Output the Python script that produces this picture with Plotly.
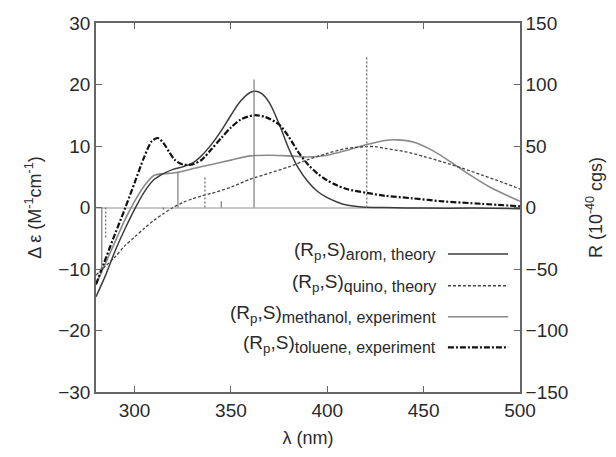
import plotly.graph_objects as go

# ---- data ----
arom_x = [280, 285, 290, 295, 300, 305, 310, 315, 320, 325, 330, 335, 340, 345, 350, 355, 360, 363, 366, 370, 375, 380, 385, 390, 395, 400, 405, 410, 418, 430, 450, 475, 500]
arom_y = [-14.5, -11, -7, -3.5, -0.3, 2.5, 4.5, 5.5, 6.2, 6.6, 7.2, 8.5, 10.3, 12.5, 15, 17.3, 18.7, 18.9, 18.5, 17, 13.6, 9.6, 6.4, 4.2, 2.6, 1.6, 0.9, 0.4, 0.1, 0, -0.1, -0.1, -0.2]

quino_x = [280, 285, 290, 295, 300, 305, 310, 315, 320, 325, 330, 335, 340, 350, 360, 370, 380, 390, 400, 410, 420, 425, 430, 440, 450, 460, 470, 480, 490, 500]
quino_y = [-11, -9.5, -8, -6.2, -4.8, -3.4, -2.1, -1, 0, 0.8, 1.4, 1.9, 2.3, 3.3, 4.6, 5.6, 6.6, 7.8, 8.8, 9.6, 9.9, 9.9, 9.6, 9.1, 8.3, 7.4, 6.4, 5.3, 4.2, 3.0]

meth_x = [280, 285, 290, 295, 300, 305, 310, 315, 320, 325, 330, 340, 350, 360, 370, 380, 390, 400, 410, 420, 430, 436, 445, 455, 465, 475, 485, 495, 500]
meth_y = [-12.5, -9, -5.5, -2, 1, 3.5, 5.2, 5.5, 5.6, 5.9, 6.3, 7, 7.7, 8.4, 8.5, 8.4, 8.2, 8.5, 9.3, 10.2, 10.9, 11, 10.6, 9.2, 7.2, 5.1, 3.2, 1.7, 1.0]

tol_x = [280, 285, 290, 295, 300, 305, 309, 312, 315, 318, 321, 325, 330, 335, 340, 345, 350, 355, 362, 368, 375, 380, 385, 390, 395, 400, 405, 410, 420, 430, 444, 460, 480, 500]
tol_y = [-12.5, -8.3, -4.2, -0.2, 4, 8.2, 10.8, 11.3, 10.5, 9, 7.7, 7, 7, 7.8, 9.5, 11.3, 13, 14.3, 15, 14.7, 13.5, 11.5, 9, 7, 5.5, 4.4, 3.6, 3.0, 2.4, 1.9, 1.5, 1.0, 0.6, 0.2]

# rotatory strengths (right axis, 10^-40 cgs)
arom_stick_x = [283, 322.5, 345, 362]
arom_stick_R = [-50, 29, 5, 104]
quino_stick_x = [285, 315, 336.5, 420.5]
quino_stick_R = [-25, -3, 25, 122]

legend_labels = [
    "(R<sub>p</sub>,S)<sub><span style='font-size:16px'>arom, theory</span></sub>",
    "(R<sub>p</sub>,S)<sub><span style='font-size:16px'>quino, theory</span></sub>",
    "(R<sub>p</sub>,S)<sub><span style='font-size:16px'>methanol, experiment</span></sub>",
    "(R<sub>p</sub>,S)<sub><span style='font-size:16px'>toluene, experiment</span></sub>",
]

FONT = "Liberation Sans, Arial, Helvetica, sans-serif"
TXT = "#2a2a2a"
AX = "#666666"

styles = [
    dict(color="#3c3c3c", width=1.5, dash="solid"),
    dict(color="#444444", width=1.3, dash="3px,2px"),
    dict(color="#8a8a8a", width=1.6, dash="solid"),
    dict(color="#111111", width=2.2, dash="6px,2px,2px,2px"),
]

fig = go.Figure()

def stick_xy(xs, rs):
    X, Y = [], []
    for x, r in zip(xs, rs):
        X += [x, x, None]
        Y += [0, r, None]
    return X, Y

sx, sy = stick_xy(arom_stick_x, arom_stick_R)
fig.add_trace(go.Scatter(x=sx, y=sy, mode="lines", yaxis="y2",
                         line=dict(color="#7a7a7a", width=1.2), showlegend=False, hoverinfo="skip"))
sx, sy = stick_xy(quino_stick_x, quino_stick_R)
fig.add_trace(go.Scatter(x=sx, y=sy, mode="lines", yaxis="y2",
                         line=dict(color="#7a7a7a", width=1.4, dash="2px,2px"), showlegend=False, hoverinfo="skip"))

for (xs, ys), st in zip([(meth_x, meth_y), (quino_x, quino_y), (arom_x, arom_y), (tol_x, tol_y)],
                        [styles[2], styles[1], styles[0], styles[3]]):
    fig.add_trace(go.Scatter(x=xs, y=ys, mode="lines", line=dict(shape="spline", smoothing=0.8, **st),
                             showlegend=False))

# gnuplot-style legend: text right-aligned, sample on the right
rows_y = [0.374, 0.288, 0.204, 0.121]
for lab, st, yy in zip(legend_labels, styles, rows_y):
    fig.add_annotation(x=0.806, y=yy + 0.008, xref="paper", yref="paper", text=lab, showarrow=False,
                       xanchor="right", yanchor="middle",
                       font=dict(family=FONT, size=19, color=TXT))
    fig.add_shape(type="line", xref="paper", yref="paper", x0=0.830, x1=0.972, y0=yy, y1=yy,
                  line=st)

fig.update_layout(
    width=616, height=457,
    margin=dict(l=96, r=96, t=23, b=62),
    paper_bgcolor="white", plot_bgcolor="white",
    font=dict(family=FONT, size=19, color=TXT),
    showlegend=False,
    xaxis=dict(range=[280, 500], tickvals=[300, 350, 400, 450, 500], ticks="inside", ticklen=6,
               tickcolor=AX, showline=True, linecolor=AX, linewidth=1.5, mirror="ticks",
               showgrid=False, zeroline=False,
               title=dict(text="λ (nm)", standoff=12, font=dict(size=18))),
    yaxis=dict(range=[-30, 30], tickvals=[-30, -20, -10, 0, 10, 20, 30], ticks="inside", ticklen=6,
               tickcolor=AX, showline=True, linecolor=AX, linewidth=1.5,
               showgrid=False, zeroline=True, zerolinecolor="#c8c8c8", zerolinewidth=1.5,
               title=dict(text="Δ ε (M<sup>-1</sup>cm<sup>-1</sup>)", standoff=12, font=dict(size=18))),
    yaxis2=dict(range=[-150, 150], tickvals=[-150, -100, -50, 0, 50, 100, 150], overlaying="y", side="right",
                ticks="inside", ticklen=6, tickcolor=AX, showline=True, linecolor=AX, linewidth=1.5,
                showgrid=False, zeroline=False,
                title=dict(text="R (10<sup>-40</sup> cgs)", standoff=22, font=dict(size=18))),
)

fig.write_html("out.html")
